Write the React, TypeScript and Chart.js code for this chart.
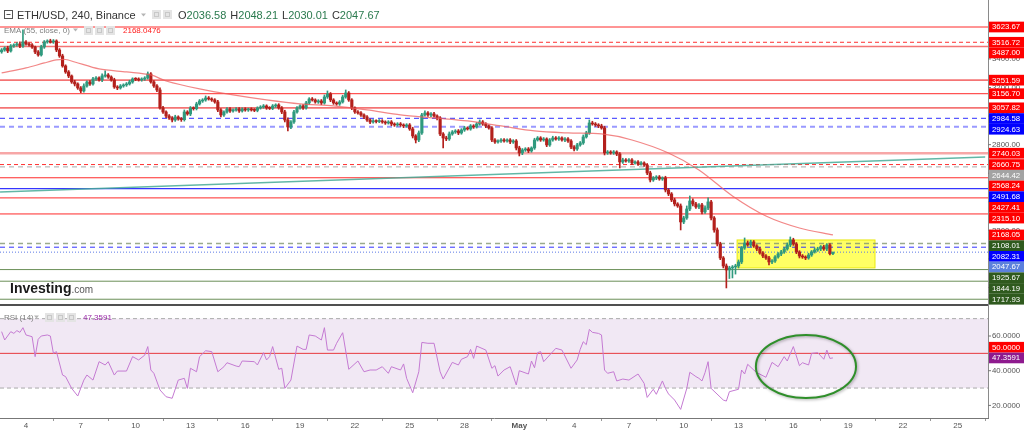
import React, { useEffect, useRef } from 'react';
import { Chart, registerables } from 'chart.js';

Chart.register(...registerables);

const FONT = "'Liberation Sans', Arial, sans-serif";

// ---------- time axis (day units: April d -> d, May d -> 30 + d) ----------
const FIRST_CANDLE_DAY = 2 + 16 / 24; // Apr 2, 16:00
const CANDLE_DAYS = 4 / 24; // 240 minutes
const X_MIN_DAY = 2.577;
const X_MAX_DAY = 56.654;
const xTickDays = [4, 7, 10, 13, 16, 19, 22, 25, 28, 31, 34, 37, 40, 43, 46, 49, 52, 55];
const xTickLabels = ['4', '7', '10', '13', '16', '19', '22', '25', '28', 'May', '4', '7', '10', '13', '16', '19', '22', '25'];

// ---------- price panel: 4h candles ----------
const firstOpen = 3450;
const closes = [
  3463, 3477, 3456, 3491, 3498, 3505, 3491, 3519, 3505, 3498,
  3484, 3449, 3428, 3484, 3519, 3526, 3519, 3526, 3463, 3421,
  3351, 3309, 3281, 3239, 3225, 3197, 3176, 3211, 3239, 3225,
  3260, 3267, 3253, 3281, 3288, 3274, 3253, 3204, 3197, 3211,
  3218, 3225, 3239, 3260, 3258, 3253, 3260, 3267, 3295, 3239,
  3211, 3183, 3057, 3029, 3001, 2987, 2973, 2994, 2980, 2975,
  3029, 3015, 3057, 3052, 3085, 3106, 3113, 3127, 3120, 3113,
  3099, 3043, 3008, 3029, 3050, 3036, 3043, 3050, 3036, 3050,
  3043, 3048, 3043, 3040, 3057, 3064, 3071, 3057, 3054, 3071,
  3078, 3057, 3029, 2973, 2924, 2959, 3029, 3057, 3071, 3057,
  3092, 3120, 3113, 3099, 3106, 3092, 3134, 3155, 3113, 3092,
  3085, 3099, 3134, 3162, 3113, 3057, 3029, 3022, 3008, 2994,
  2973, 2959, 2966, 2962, 2966, 2959, 2952, 2959, 2945, 2938,
  2945, 2938, 2931, 2938, 2910, 2861, 2833, 2882, 3008, 3022,
  3008, 3015, 3001, 2987, 2875, 2847, 2840, 2875, 2889, 2896,
  2882, 2903, 2917, 2910, 2931, 2924, 2945, 2959, 2945, 2931,
  2917, 2833, 2819, 2826, 2833, 2826, 2833, 2819, 2826, 2777,
  2742, 2763, 2770, 2756, 2777, 2833, 2847, 2833, 2840, 2798,
  2833, 2847, 2840, 2847, 2833, 2840, 2826, 2784, 2770, 2798,
  2812, 2854, 2882, 2952, 2945, 2938, 2931, 2917, 2742, 2749,
  2742, 2749, 2735, 2679, 2693, 2686, 2693, 2672, 2679, 2665,
  2672, 2658, 2602, 2553, 2567, 2574, 2560, 2567, 2483, 2455,
  2413, 2385, 2371, 2259, 2287, 2350, 2406, 2385, 2364, 2378,
  2329, 2357, 2399, 2287, 2203, 2105, 2007, 1951, 1923, 1937,
  1944, 1951, 1979, 2077, 2112, 2098, 2119, 2091, 2070, 2042,
  2021, 2007, 1979, 1986, 2014, 2035, 2049, 2070, 2098, 2133,
  2105, 2049, 2021, 2014, 2007, 2028, 2049, 2063, 2070, 2084,
  2070, 2098, 2036.58, 2047.67,
];
const wickUp = [
  10, 8, 12, 10, 8, 9, 14, 84, 10, 8,
  9, 6, 10, 12, 10, 8, 12, 10, 8, 10,
  12, 8, 10, 7, 12, 8, 10, 14, 8, 10,
  12, 9, 8, 14, 28, 10, 8, 12, 9, 10,
  8, 10, 12, 8, 9, 10, 8, 9, 14, 10,
  9, 10, 14, 12, 8, 10, 9, 12, 8, 10,
  14, 9, 10, 8, 12, 10, 9, 14, 10, 8,
  9, 12, 10, 8, 9, 10, 8, 9, 10, 8,
  9, 8, 10, 9, 8, 9, 10, 8, 9, 10,
  8, 9, 10, 12, 14, 10, 12, 9, 8, 10,
  12, 9, 10, 8, 9, 10, 14, 21, 10, 9,
  8, 10, 12, 21, 10, 9, 8, 10, 9, 8,
  10, 8, 9, 8, 10, 9, 8, 9, 10, 8,
  9, 10, 8, 9, 10, 12, 9, 14, 12, 14,
  10, 9, 12, 8, 10, 9, 12, 14, 10, 9,
  10, 9, 12, 8, 10, 9, 10, 14, 10, 9,
  8, 10, 9, 8, 10, 9, 8, 10, 9, 10,
  12, 10, 9, 10, 8, 12, 10, 9, 10, 8,
  10, 12, 9, 10, 8, 9, 10, 9, 10, 12,
  10, 14, 12, 21, 12, 10, 9, 12, 12, 10,
  9, 10, 8, 10, 12, 9, 10, 9, 8, 10,
  9, 8, 10, 12, 10, 9, 10, 8, 12, 10,
  10, 12, 9, 14, 12, 21, 35, 14, 12, 10,
  12, 14, 28, 12, 10, 14, 12, 10, 14, 12,
  10, 12, 14, 10, 35, 14, 12, 10, 9, 12,
  10, 9, 12, 10, 9, 10, 12, 10, 14, 21,
  12, 10, 9, 10, 8, 12, 10, 14, 12, 10,
  12, 10, 9, 0.54,
];
const wickDown = [
  10, 9, 12, 8, 10, 9, 12, 10, 9, 8,
  10, 12, 9, 8, 10, 9, 8, 10, 12, 10,
  9, 10, 12, 10, 14, 10, 12, 9, 8, 10,
  8, 10, 9, 12, 8, 10, 9, 10, 12, 8,
  9, 10, 8, 9, 10, 8, 9, 10, 8, 9,
  10, 12, 9, 10, 12, 10, 14, 10, 9, 12,
  10, 9, 12, 10, 9, 8, 10, 9, 8, 10,
  9, 12, 14, 10, 9, 10, 8, 9, 10, 8,
  9, 10, 8, 9, 10, 8, 9, 10, 8, 9,
  10, 9, 12, 14, 28, 12, 10, 9, 8, 10,
  9, 10, 8, 9, 10, 12, 9, 10, 12, 10,
  9, 10, 8, 9, 10, 12, 10, 9, 10, 12,
  10, 12, 9, 10, 8, 9, 10, 8, 12, 10,
  9, 10, 12, 9, 10, 14, 21, 12, 10, 9,
  10, 12, 9, 14, 12, 70, 12, 10, 9, 10,
  12, 9, 10, 8, 9, 10, 8, 9, 10, 12,
  9, 12, 10, 9, 10, 8, 9, 12, 10, 14,
  21, 12, 10, 12, 9, 10, 8, 10, 9, 12,
  10, 9, 8, 10, 9, 12, 10, 12, 14, 10,
  9, 10, 8, 10, 9, 10, 12, 9, 14, 10,
  9, 10, 12, 42, 10, 9, 10, 12, 9, 10,
  9, 10, 12, 14, 10, 12, 9, 10, 14, 12,
  12, 14, 10, 56, 12, 10, 12, 14, 10, 12,
  14, 10, 12, 14, 16, 14, 12, 14, 126, 60,
  70, 50, 14, 12, 10, 9, 12, 10, 12, 9,
  12, 10, 21, 12, 10, 9, 12, 10, 9, 12,
  10, 12, 14, 10, 12, 9, 10, 8, 10, 12,
  10, 12, 9, 6.57,
];

// EMA(55, close) sampled at candle indices
const emaIndex = [0, 8, 14, 18, 21, 24, 32, 41, 49, 54, 65, 76, 87, 98, 109, 120, 131, 142, 153, 164, 175, 186, 197, 207, 219, 229, 240, 251, 262, 273];
const emaValue = [3302, 3337, 3372, 3393, 3396, 3379, 3330, 3309, 3288, 3246, 3190, 3148, 3113, 3085, 3071, 3043, 3008, 2987, 2966, 2931, 2896, 2882, 2875, 2833, 2742, 2623, 2441, 2301, 2217, 2168.0476];

// RSI(14) at candle indices
const rsiIndex = [
  0, 1, 3, 4, 5, 6, 7, 8, 10, 11, 12, 13, 15, 16, 17, 18, 20, 21, 23, 25,
  27, 28, 30, 32, 34, 35, 37, 38, 41, 43, 45, 47, 48, 49, 50, 52, 54, 56, 58, 60,
  61, 62, 64, 65, 67, 69, 71, 73, 74, 77, 78, 79, 83, 84, 86, 87, 88, 89, 91, 92,
  93, 95, 97, 99, 100, 101, 103, 105, 106, 107, 109, 110, 112, 114, 117, 119, 121, 123, 125, 127,
  128, 131, 132, 133, 135, 137, 138, 140, 142, 144, 145, 148, 150, 151, 153, 154, 155, 156, 159, 161,
  162, 163, 165, 167, 169, 170, 173, 174, 175, 176, 177, 178, 182, 184, 187, 189, 190, 191, 192, 193,
  194, 196, 197, 198, 199, 201, 202, 204, 206, 209, 211, 212, 214, 215, 217, 218, 219, 221, 223, 225,
  226, 228, 229, 230, 231, 232, 233, 237, 238, 239, 242, 243, 244, 245, 247, 248, 251, 253, 255, 257,
  258, 260, 262, 263, 265, 266, 268, 269, 270, 271, 272, 273,
];
const rsiValue = [
  62.5, 57.7, 62.5, 61.5, 63.1, 62.1, 64.8, 60.6, 59.6, 48.1, 58.1, 60, 60.6, 60, 50, 51, 37.5, 36.6, 29.8, 25.4,
  34.6, 37.5, 34.6, 45.2, 43.3, 45.2, 37.5, 39.8, 39.8, 48.1, 46.2, 49, 53.9, 40.4, 38.5, 28.9, 25, 24.1, 34.6, 35.6,
  29.8, 41.4, 39.4, 48.1, 51.5, 51, 39.4, 42.3, 44.6, 42.7, 42.3, 45.6, 45.2, 43.3, 50.4, 46.2, 48.1, 53.9, 40.8, 41.4,
  29.8, 34.6, 54.2, 52.3, 52.3, 60.6, 60, 57.7, 64.8, 51.9, 51.9, 55.8, 61.9, 40.8, 45.6, 39.4, 40.4, 40.4, 42.3, 38.5,
  42.3, 40.4, 43.9, 35.6, 27.3, 39.4, 56.3, 55.8, 55.8, 39.4, 35.2, 44.8, 43.3, 46.6, 48.1, 52.3, 47.1, 54.2, 51.9, 41.4,
  42.9, 36.9, 40.4, 42.3, 31.8, 40, 38.1, 45.6, 41.7, 50.4, 51, 45.2, 52.9, 51.9, 41.4, 46.2, 52.3, 56.7, 55, 63.8,
  62.1, 61.5, 60.6, 40.4, 38.5, 39.4, 34.1, 35.2, 34.6, 38.1, 32.7, 24.6, 29.3, 26.4, 34.1, 29.8, 26.6, 23.1, 17.7, 29.8,
  39.1, 36.6, 35.6, 34.1, 38.9, 45.2, 29.8, 23.1, 22.5, 27.9, 29.3, 40.4, 38.1, 43.7, 40.4, 38.9, 36.2, 44.8, 42.3, 48.1,
  45.6, 53.9, 42.9, 44.6, 43.3, 50, 50.4, 48.5, 46.6, 51.9, 47.1, 47.3591,
];

// horizontal drawings on the price panel
const levelPrices = [3623.67, 3516.72, 3487.0, 3251.59, 3156.7, 3057.82, 2984.58, 2924.63, 2740.03, 2660.75, 2644.42, 2568.24, 2491.68, 2427.41, 2315.1, 2108.01, 2082.31, 1925.67, 1844.19, 1717.93];
const levelKinds = ['red', 'redDash', 'redSoft', 'redSoft', 'red', 'redSoft', 'blueDash', 'blueDashSoft', 'pinkThick', 'redDash', 'grayDash', 'red', 'blue', 'red', 'red', 'greenDash', 'blueDash', 'green', 'green', 'green'];

// teal trend line (day, price)
const trendDays = [2.58, 56.5];
const trendPrices = [2469, 2714];

// yellow consolidation box (days, prices)
const boxDays = [42.92, 50.47];
const boxPrices = [1937, 2133];

// green ellipse on RSI (day, rsi) and radii (days, rsi units)
const ellipseCenter = [46.69, 42.4];
const ellipseRadius = [2.74, 18.2];

const priceGridTicks = [3400, 3200, 3000, 2800, 2600, 2400, 2200, 2000, 1800];
const rsiGridTicks = [60, 40, 20];
const rsiBand = [30, 70];
const rsiMid = 50;

const SYMBOL_TEXT = 'ETH/USD, 240, Binance';
const EMA_TEXT = 'EMA (55, close, 0)';
const RSI_TEXT = 'RSI (14)';

// ---------- axis ranges / layout ----------
const PRICE_MIN = 886.67;
const PRICE_MAX = 3812.67;
const RSI_MIN = 12.74;
const RSI_MAX = 253.66;
const AXIS_W = 36;
const PRICE_PANEL_BOTTOM = 302;
const SEPARATOR_Y = 304;

const UP = '#2f9a7e';
const DOWN = '#b3201c';

const LINE_STYLES: Record<string, { color: string; width: number; dash: number[]; tag: string }> = {
  red: { color: '#ff2a2a', width: 1, dash: [], tag: '#ff0000' },
  redDash: { color: '#ff3030', width: 1, dash: [4, 3], tag: '#ff0000' },
  redSoft: { color: 'rgba(240,70,70,0.75)', width: 1.6, dash: [], tag: '#ff0000' },
  pinkThick: { color: 'rgba(240,80,80,0.5)', width: 2.5, dash: [], tag: '#ff0000' },
  blueDash: { color: '#3030ff', width: 1, dash: [5, 4], tag: '#0000ff' },
  blueDashSoft: { color: 'rgba(70,70,255,0.55)', width: 2, dash: [5, 4], tag: '#0000ff' },
  blue: { color: '#3535ff', width: 1.2, dash: [], tag: '#0000ff' },
  grayDash: { color: '#a8a8a8', width: 1, dash: [5, 4], tag: '#a3a3a3' },
  greenDash: { color: 'rgba(130,150,110,0.8)', width: 1.6, dash: [5, 4], tag: '#2f5a1e' },
  green: { color: '#6b8f58', width: 1, dash: [], tag: '#2f5a1e' },
};

function hLine(ctx: CanvasRenderingContext2D, x0: number, x1: number, y: number, color: string, width: number, dash: number[]) {
  ctx.save();
  ctx.strokeStyle = color;
  ctx.lineWidth = width;
  ctx.setLineDash(dash);
  ctx.beginPath();
  ctx.moveTo(x0, y);
  ctx.lineTo(x1, y);
  ctx.stroke();
  ctx.restore();
}

function drawIcons(ctx: CanvasRenderingContext2D, x: number, y: number, n: number, size: number) {
  for (let i = 0; i < n; i++) {
    ctx.fillStyle = '#e4e4e4';
    ctx.fillRect(x + i * (size + 2), y, size, size);
    ctx.strokeStyle = '#c8c8c8';
    ctx.lineWidth = 1;
    ctx.strokeRect(x + i * (size + 2) + 2.5, y + 2.5, size - 5, size - 5);
  }
}

function drawCaret(ctx: CanvasRenderingContext2D, x: number, y: number) {
  ctx.fillStyle = '#b5b5b5';
  ctx.beginPath();
  ctx.moveTo(x, y - 1.5);
  ctx.lineTo(x + 5, y - 1.5);
  ctx.lineTo(x + 2.5, y + 1.5);
  ctx.closePath();
  ctx.fill();
}

export default function App() {
  const canvasRef = useRef<HTMLCanvasElement | null>(null);

  useEffect(() => {
    const canvas = canvasRef.current;
    if (!canvas) return;

    const n = closes.length;
    const opens = closes.map((c, i) => (i === 0 ? firstOpen : closes[i - 1]));
    const highs = closes.map((c, i) => Math.max(opens[i], c) + wickUp[i]);
    const lows = closes.map((c, i) => Math.min(opens[i], c) - wickDown[i]);
    const days = closes.map((_, i) => FIRST_CANDLE_DAY + i * CANDLE_DAYS);
    const colors = closes.map((c, i) => (c >= opens[i] ? UP : DOWN));

    const bodies = closes.map((c, i) => ({ x: days[i], y: [opens[i], c] }));
    const wicks = closes.map((c, i) => ({ x: days[i], y: [lows[i], highs[i]] }));
    const ema = emaIndex.map((k, i) => ({ x: FIRST_CANDLE_DAY + k * CANDLE_DAYS, y: emaValue[i] }));
    const rsi = rsiIndex.map((k, i) => ({ x: FIRST_CANDLE_DAY + k * CANDLE_DAYS, y: rsiValue[i] }));
    const trend = trendDays.map((d, i) => ({ x: d, y: trendPrices[i] }));

    const lastClose = closes[n - 1];
    const lastEma = emaValue[emaValue.length - 1];
    const lastRsi = rsiValue[rsiValue.length - 1];

    const overlay = {
      id: 'overlay',
      beforeDatasetsDraw(chart: any) {
        const { ctx, chartArea: ca, scales } = chart;
        const xs = scales.x, ys = scales.y, yr = scales.yr;
        ctx.save();
        // RSI band
        const r70 = yr.getPixelForValue(rsiBand[1]);
        const r30 = yr.getPixelForValue(rsiBand[0]);
        ctx.fillStyle = 'rgba(150,80,170,0.13)';
        ctx.fillRect(ca.left, r70, ca.right - ca.left, r30 - r70);
        hLine(ctx, ca.left, ca.right, r70, '#a9a9a9', 1, [4, 3]);
        hLine(ctx, ca.left, ca.right, r30, '#a9a9a9', 1, [4, 3]);
        hLine(ctx, ca.left, ca.right, yr.getPixelForValue(rsiMid), '#e8383d', 1, []);

        // yellow box
        const bx0 = xs.getPixelForValue(boxDays[0]);
        const bx1 = xs.getPixelForValue(boxDays[1]);
        const by0 = ys.getPixelForValue(boxPrices[1]);
        const by1 = ys.getPixelForValue(boxPrices[0]);
        ctx.fillStyle = 'rgba(255,255,40,0.72)';
        ctx.fillRect(bx0, by0, bx1 - bx0, by1 - by0);
        ctx.strokeStyle = 'rgba(230,230,0,0.9)';
        ctx.lineWidth = 1;
        ctx.strokeRect(bx0, by0, bx1 - bx0, by1 - by0);

        // level lines
        levelPrices.forEach((p, i) => {
          const st = LINE_STYLES[levelKinds[i]];
          hLine(ctx, ca.left, ca.right, ys.getPixelForValue(p), st.color, st.width, st.dash);
        });
        // current price
        hLine(ctx, ca.left, ca.right, ys.getPixelForValue(lastClose), '#5a78e6', 1, [1, 2]);
        ctx.restore();
      },
      afterDatasetsDraw(chart: any) {
        const { ctx, scales } = chart;
        const xs = scales.x, yr = scales.yr;
        const cx = xs.getPixelForValue(ellipseCenter[0]);
        const cy = yr.getPixelForValue(ellipseCenter[1]);
        const rx = xs.getPixelForValue(ellipseCenter[0] + ellipseRadius[0]) - cx;
        const ry = yr.getPixelForValue(ellipseCenter[1] - ellipseRadius[1]) - cy;
        ctx.save();
        ctx.shadowColor = 'rgba(0,0,0,0.35)';
        ctx.shadowBlur = 3;
        ctx.shadowOffsetX = 1;
        ctx.shadowOffsetY = 1;
        ctx.strokeStyle = '#2f8f2a';
        ctx.lineWidth = 2;
        ctx.beginPath();
        ctx.ellipse(cx, cy, rx, ry, 0, 0, Math.PI * 2);
        ctx.stroke();
        ctx.restore();
      },
      afterDraw(chart: any) {
        const { ctx, chartArea: ca, scales } = chart;
        const ys = scales.y, yr = scales.yr;
        const W = chart.width;
        ctx.save();
        // panel separator
        ctx.fillStyle = '#ffffff';
        ctx.fillRect(0, PRICE_PANEL_BOTTOM + 1, ca.right, SEPARATOR_Y - PRICE_PANEL_BOTTOM - 1);
        ctx.fillStyle = '#505050';
        ctx.fillRect(0, SEPARATOR_Y, ca.right, 2);
        // right axis line
        ctx.strokeStyle = '#8a8a8a';
        ctx.lineWidth = 1;
        ctx.beginPath();
        ctx.moveTo(ca.right + 0.5, 0);
        ctx.lineTo(ca.right + 0.5, ca.bottom);
        ctx.stroke();

        ctx.textBaseline = 'middle';
        ctx.font = `7.8px ${FONT}`;
        // plain grid labels
        const plain = (y: number, text: string) => {
          ctx.strokeStyle = '#777';
          ctx.beginPath();
          ctx.moveTo(ca.right, y);
          ctx.lineTo(ca.right + 3, y);
          ctx.stroke();
          ctx.fillStyle = '#555';
          ctx.fillText(text, ca.right + 4, y);
        };
        priceGridTicks.forEach((p) => plain(ys.getPixelForValue(p), p.toFixed(2)));
        rsiGridTicks.forEach((v) => plain(yr.getPixelForValue(v), v.toFixed(4)));

        const tag = (y: number, text: string, bg: string) => {
          ctx.fillStyle = bg;
          ctx.fillRect(ca.right + 1, y - 5.35, W - ca.right - 1, 10.7);
          ctx.fillStyle = '#ffffff';
          ctx.fillText(text, ca.right + 4, y + 0.3);
        };
        // price tags, pushed down to avoid overlap
        const tags = levelPrices.map((p, i) => ({ y: ys.getPixelForValue(p), text: p.toFixed(2), bg: LINE_STYLES[levelKinds[i]].tag }));
        tags.push({ y: ys.getPixelForValue(lastEma), text: lastEma.toFixed(2), bg: '#ff0000' });
        tags.push({ y: ys.getPixelForValue(lastClose), text: lastClose.toFixed(2), bg: '#5b80dc' });
        tags.sort((a, b) => a.y - b.y);
        let prev = -1e9;
        tags.forEach((t) => {
          t.y = Math.max(t.y, prev + 10.7);
          prev = t.y;
        });
        tags.forEach((t) => tag(t.y, t.text, t.bg));

        // RSI tags, pushed up
        const yLast = yr.getPixelForValue(lastRsi);
        const yMid = Math.min(yr.getPixelForValue(rsiMid), yLast - 10.7);
        tag(yMid, rsiMid.toFixed(4), '#ff0000');
        tag(yLast, lastRsi.toFixed(4), '#8e1a8e');

        // header line 1
        ctx.textBaseline = 'alphabetic';
        ctx.strokeStyle = '#555';
        ctx.lineWidth = 1;
        ctx.strokeRect(4.5, 10.5, 8, 8);
        ctx.beginPath();
        ctx.moveTo(6.5, 14.5);
        ctx.lineTo(10.5, 14.5);
        ctx.stroke();
        ctx.font = `11px ${FONT}`;
        ctx.fillStyle = '#333';
        ctx.fillText(SYMBOL_TEXT, 17, 19);
        drawCaret(ctx, 141, 15);
        drawIcons(ctx, 152, 10, 2, 9);
        const ohlc = [
          ['O', opens[n - 1]],
          ['H', highs[n - 1]],
          ['L', lows[n - 1]],
          ['C', closes[n - 1]],
        ] as [string, number][];
        let hx = 178;
        ohlc.forEach(([k, v]) => {
          ctx.fillStyle = '#333';
          ctx.fillText(k, hx, 19);
          hx += ctx.measureText(k).width;
          ctx.fillStyle = '#2a7a4e';
          const s = v.toFixed(2);
          ctx.fillText(s, hx, 19);
          hx += ctx.measureText(s).width + 4;
        });

        // header line 2 (EMA)
        ctx.font = `8px ${FONT}`;
        ctx.fillStyle = '#808080';
        ctx.fillText(EMA_TEXT, 4, 33);
        drawCaret(ctx, 73, 30);
        drawIcons(ctx, 84, 26, 3, 9);
        ctx.fillStyle = '#ff1a1a';
        ctx.fillText(lastEma.toFixed(4), 123, 33);

        // RSI header
        ctx.fillStyle = '#808080';
        ctx.fillText(RSI_TEXT, 4, 320);
        drawCaret(ctx, 34, 317);
        drawIcons(ctx, 45, 313, 3, 9);
        ctx.fillStyle = '#9a2aa8';
        ctx.fillText(lastRsi.toFixed(4), 83, 320);

        // logo
        ctx.font = `bold 14px ${FONT}`;
        ctx.fillStyle = '#1a1a1a';
        ctx.fillText('Investing', 10, 293);
        const lw = ctx.measureText('Investing').width;
        ctx.font = `10px ${FONT}`;
        ctx.fillStyle = '#555';
        ctx.fillText('.com', 10 + lw, 293);
        ctx.restore();
      },
    };

    const chart = new Chart(canvas, {
      type: 'bar',
      data: {
        datasets: [
          {
            type: 'bar',
            data: wicks as any,
            backgroundColor: colors,
            barThickness: 1,
            maxBarThickness: 1,
            grouped: false,
            borderWidth: 0,
            yAxisID: 'y',
            order: 4,
          } as any,
          {
            type: 'bar',
            data: bodies as any,
            backgroundColor: colors,
            barThickness: 2.5,
            maxBarThickness: 2.5,
            minBarLength: 1,
            grouped: false,
            borderWidth: 0,
            yAxisID: 'y',
            order: 3,
          } as any,
          {
            type: 'line',
            data: trend as any,
            borderColor: 'rgba(70,170,150,0.85)',
            borderWidth: 1.5,
            pointRadius: 0,
            yAxisID: 'y',
            order: 5,
          } as any,
          {
            type: 'line',
            data: ema as any,
            borderColor: 'rgba(238,95,95,0.75)',
            borderWidth: 1.2,
            pointRadius: 0,
            tension: 0.3,
            yAxisID: 'y',
            order: 2,
          } as any,
          {
            type: 'line',
            data: rsi as any,
            borderColor: '#c47ad2',
            borderWidth: 1,
            pointRadius: 0,
            yAxisID: 'yr',
            order: 1,
          } as any,
        ],
      },
      options: {
        animation: false,
        responsive: false,
        devicePixelRatio: 1,
        layout: { padding: { left: 0, right: AXIS_W, top: 0, bottom: 0 } },
        plugins: { legend: { display: false }, tooltip: { enabled: false } },
        scales: {
          x: {
            type: 'linear',
            min: X_MIN_DAY,
            max: X_MAX_DAY,
            offset: false,
            afterBuildTicks: (axis: any) => {
              axis.ticks = xTickDays.map((v) => ({ value: v }));
            },
            afterFit: (axis: any) => {
              axis.height = 16;
            },
            ticks: {
              autoSkip: false,
              maxRotation: 0,
              padding: 0,
              color: '#555',
              font: (c: any) => ({ size: 8, family: FONT, weight: c.tick && c.tick.value === 31 ? 'bold' : 'normal' }),
              callback: (v: any, i: number) => xTickLabels[i],
            },
            grid: { drawOnChartArea: false, drawTicks: true, tickLength: 3, color: '#999' },
            border: { display: true, color: '#777' },
          },
          y: { type: 'linear', position: 'right', min: PRICE_MIN, max: PRICE_MAX, display: false },
          yr: { type: 'linear', position: 'right', min: RSI_MIN, max: RSI_MAX, display: false },
        },
      } as any,
      plugins: [overlay],
    });

    return () => chart.destroy();
  }, []);

  return (
    <div style={{ position: 'fixed', left: 0, top: 0, width: 1024, height: 434, background: '#fff' }}>
      <canvas ref={canvasRef} width={1024} height={434} style={{ display: 'block' }} />
    </div>
  );
}
